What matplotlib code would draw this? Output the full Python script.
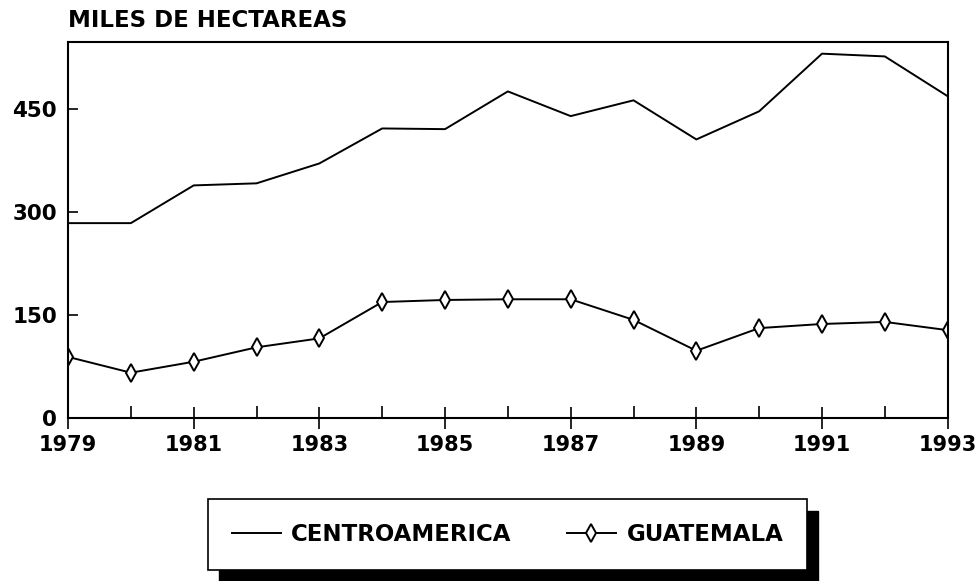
import numpy as np
import matplotlib.pyplot as plt
from matplotlib.patches import Rectangle

plt.rcParams['font.family'] = ['DejaVu Sans']
plt.rcParams['font.weight'] = 'bold'

years = np.arange(1979, 1994)
centroamerica = [284, 284, 339, 342, 371, 422, 421, 476, 440, 463, 406, 447, 531, 527, 469]
guatemala = [89, 66, 82, 103, 116, 169, 172, 173, 173, 143, 98, 131, 137, 140, 128]
y_ticks = [0, 150, 300, 450]
x_labels = [1979, 1981, 1983, 1985, 1987, 1989, 1991, 1993]

fig = plt.figure(figsize=(9.79, 5.81), dpi=100)
ax = fig.add_axes([0.0695, 0.2806, 0.8985, 0.6471])

ax.plot(years, centroamerica, color='black', lw=1.4, label='CENTROAMERICA')
ax.plot(years, guatemala, color='black', lw=1.4, marker='d', ms=9,
        mfc='white', mec='black', mew=1.4, label='GUATEMALA')

ax.set_xlim(1979, 1993)
ax.set_ylim(0, 548)
ax.set_yticks(y_ticks)
ax.set_xticks(x_labels)
ax.set_xticks(years, minor=True)
ax.tick_params(axis='x', which='major', direction='inout', length=16, width=1.2,
               labelsize=15, pad=4)
ax.tick_params(axis='x', which='minor', direction='in', length=9, width=1.2)
ax.tick_params(axis='y', which='major', direction='in', length=7, width=1.2,
               labelsize=15.5, pad=8)
for lab in ax.get_xticklabels() + ax.get_yticklabels():
    lab.set_fontweight('bold')
for s in ax.spines.values():
    s.set_linewidth(1.5)

fig.text(0.0695, 0.964, 'MILES DE HECTAREAS', fontsize=16.5, fontweight='bold',
         va='center', ha='left')

leg = fig.legend(loc='center', bbox_to_anchor=(0.5184, 0.080), ncol=2,
                 fontsize=16.5, frameon=True, fancybox=False, edgecolor='black',
                 framealpha=1, handlelength=2.15, columnspacing=2.4,
                 borderpad=1.05, handletextpad=0.45, borderaxespad=0)
leg.get_frame().set_linewidth(1.2)
leg.set_zorder(5)
for t in leg.get_texts():
    t.set_fontweight('bold')

fig.canvas.draw()
bb = leg.get_window_extent().transformed(fig.transFigure.inverted())
dx, dy = 11 / 979, 12 / 581
fig.patches.append(Rectangle((bb.x0 + dx, bb.y0 - dy), bb.width, bb.height,
                             transform=fig.transFigure, color='black', zorder=1))

fig.savefig('out.png', dpi=100)
